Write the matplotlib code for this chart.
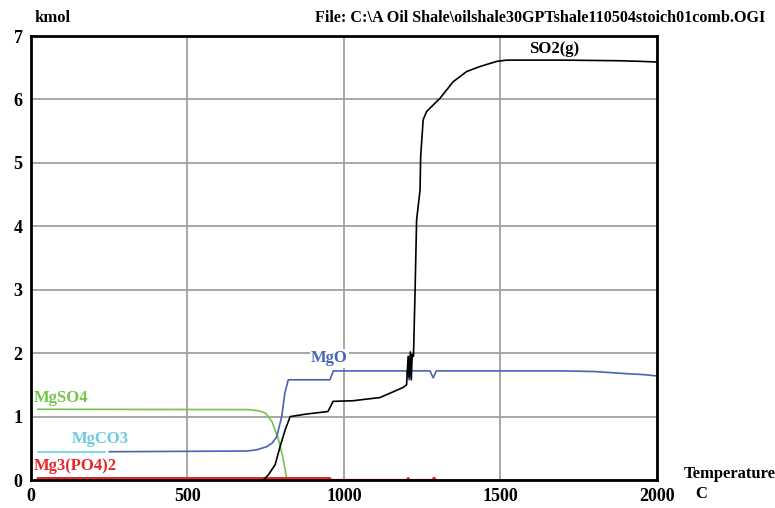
import matplotlib
matplotlib.use("Agg")
import matplotlib.pyplot as plt

plt.rcParams['font.family'] = ['Liberation Serif', 'DejaVu Serif']
plt.rcParams['font.weight'] = 'bold'

# temperature (C) / amount (kmol)
so2_t = [742, 758, 780, 796, 812, 828, 880, 949, 965, 1029, 1115, 1157, 1189, 1200,
         1205, 1208, 1212, 1215, 1218, 1222, 1227, 1232, 1243, 1245, 1253, 1264,
         1307, 1349, 1392, 1435, 1488, 1520, 1700, 1882, 1950, 2000]
so2_v = [0.0, 0.08, 0.24, 0.53, 0.79, 1.0, 1.04, 1.08, 1.24, 1.25, 1.30, 1.39, 1.46, 1.50,
         1.95, 1.62, 2.02, 1.58, 1.98, 1.95, 2.95, 4.1, 4.57, 5.1, 5.68, 5.81,
         6.02, 6.28, 6.44, 6.52, 6.60, 6.62, 6.62, 6.61, 6.60, 6.59]

mgo_t = [250, 689, 720, 753, 770, 785, 801, 811, 822, 955, 966, 1200, 1208, 1216, 1275, 1285,
         1295, 1700, 1802, 1891, 1962, 2000]
mgo_v = [0.446, 0.457, 0.475, 0.525, 0.58, 0.68, 1.0, 1.37, 1.58, 1.58, 1.72, 1.72, 1.58, 1.72,
         1.72, 1.61, 1.72, 1.72, 1.71, 1.68, 1.66, 1.64]

mgso4_t = [22, 695, 730, 750, 770, 790, 805, 818, 2000]
mgso4_v = [1.115, 1.11, 1.09, 1.05, 0.92, 0.65, 0.35, 0.0, 0.0]

mgco3_t = [22, 236]
mgco3_v = [0.446, 0.446]

mg3po4_t = [22, 955, 960, 1200, 1205, 1210, 1282, 1288, 1294]
mg3po4_v = [0.03, 0.03, 0.0, 0.0, 0.03, 0.0, 0.0, 0.035, 0.0]

xticks = [0, 500, 1000, 1500, 2000]
yticks = [0, 1, 2, 3, 4, 5, 6, 7]

fig = plt.figure(figsize=(7.75, 5.08), dpi=100)
ax = fig.add_axes([0.04, 0.0551, 0.8077, 0.874])

ax.plot(mgso4_t, mgso4_v, color='#74c44c', lw=1.2)
ax.plot(mgco3_t, mgco3_v, color='#6ccbe0', lw=1.2)
ax.plot(mgo_t, mgo_v, color='#4664b8', lw=1.2)
ax.plot(mg3po4_t, mg3po4_v, color='#e8262a', lw=1.6)
ax.plot(so2_t, so2_v, color='black', lw=1.2)

ax.set_xlim(0, 2000)
ax.set_ylim(0, 7)
ax.set_xticks(xticks)
ax.set_yticks(yticks)
ax.grid(True, color='#a0a0a0', lw=1.3)
ax.set_axisbelow(True)
ax.tick_params(length=0, labelsize=13, pad=6)
for s in ax.spines.values():
    s.set_linewidth(2)

fig.text(0.045, 0.965, 'kmol', fontsize=12, ha='left', va='center')
fig.text(0.987, 0.965, r'File: C:\A Oil Shale\oilshale30GPTshale110504stoich01comb.OGI',
         fontsize=11.6, ha='right', va='center')
fig.text(0.882, 0.067, 'Temperature', fontsize=12, ha='left', va='center')
fig.text(0.897, 0.027, 'C', fontsize=12, ha='left', va='center')

ax.text(10, 1.3, 'MgSO4', color='#74c44c', fontsize=12, va='center')
ax.text(130, 0.64, 'MgCO3', color='#6ccbe0', fontsize=12, va='center')
ax.text(10, 0.22, 'Mg3(PO4)2', color='#e8262a', fontsize=12, va='center')
ax.text(895, 1.92, 'MgO', color='#4664b8', fontsize=12, va='center',
        bbox=dict(facecolor='white', edgecolor='none', pad=1))
ax.text(1590, 6.8, 'SO2(g)', color='black', fontsize=12, va='center')

fig.savefig('out.png', dpi=100)
